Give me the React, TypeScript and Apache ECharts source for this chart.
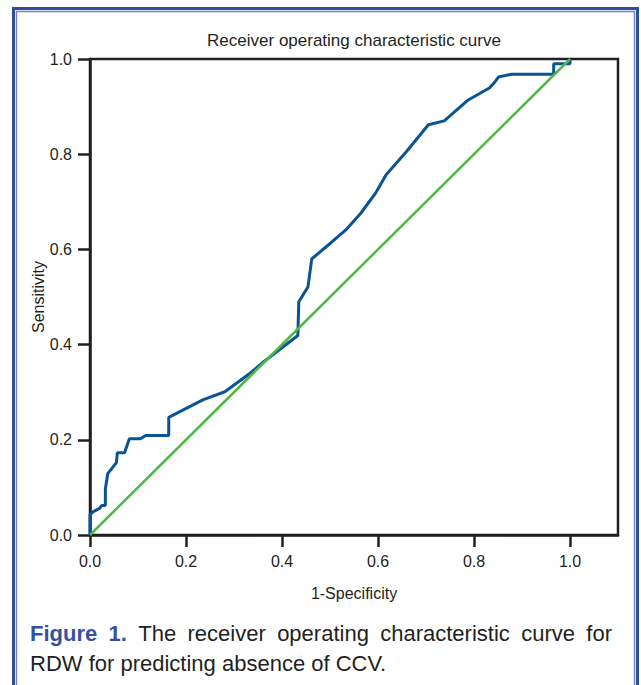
import React, { useEffect, useRef } from "react";
import * as echarts from "echarts";

// ROC curve points: [1-Specificity, Sensitivity]
const rocX = [0, 0, 0.007, 0.02, 0.024, 0.032, 0.032, 0.037, 0.055, 0.057, 0.072, 0.082, 0.105, 0.116, 0.164, 0.164, 0.235, 0.281, 0.335, 0.362, 0.433, 0.435, 0.454, 0.462, 0.502, 0.533, 0.565, 0.596, 0.617, 0.659, 0.705, 0.738, 0.788, 0.832, 0.842, 0.851, 0.878, 0.966, 0.966, 1.0, 1.0];
const rocY = [0, 0.043, 0.049, 0.056, 0.062, 0.062, 0.096, 0.129, 0.152, 0.173, 0.173, 0.202, 0.202, 0.209, 0.209, 0.247, 0.284, 0.301, 0.341, 0.364, 0.419, 0.49, 0.521, 0.58, 0.614, 0.641, 0.677, 0.72, 0.757, 0.805, 0.862, 0.87, 0.914, 0.939, 0.95, 0.962, 0.968, 0.968, 0.99, 0.99, 1.0];
const refX = [0, 1];
const refY = [0, 1];
const xTicks = [0, 0.2, 0.4, 0.6, 0.8, 1.0];
const yTicks = [0, 0.2, 0.4, 0.6, 0.8, 1.0];

const TITLE = "Receiver operating characteristic curve";
const X_NAME = "1-Specificity";
const Y_NAME = "Sensitivity";
const CAPTION_BOLD = ["Figure", "1."];
const CAPTION_LINE1 = ["The", "receiver", "operating", "characteristic", "curve", "for"];
const CAPTION_LINE2 = "RDW for predicting absence of CCV.";

const FONT = "'Liberation Sans', Arial, Helvetica, sans-serif";
const TEXT = "#231f20";
const BLUE_CAP = "#3450a2";

function measure(text: string, size: number, weight: string) {
  const c = document.createElement("canvas").getContext("2d");
  if (!c) return text.length * size * 0.5;
  c.font = `${weight} ${size}px 'Liberation Sans', Arial, sans-serif`;
  return c.measureText(text).width;
}

export default function App() {
  const ref = useRef<HTMLDivElement>(null);
  useEffect(() => {
    if (!ref.current) return;
    const chart = echarts.init(ref.current, null, { renderer: "svg" });

    // justified first caption line
    const capSize = 22;
    const words = [
      ...CAPTION_BOLD.map((w) => ({ w, bold: true })),
      ...CAPTION_LINE1.map((w) => ({ w, bold: false })),
    ];
    const x0 = 30;
    const x1 = 612;
    const widths = words.map((o) => measure(o.w, capSize, o.bold ? "bold" : "normal"));
    const total = widths.reduce((a, b) => a + b, 0);
    const gap = (x1 - x0 - total) / (words.length - 1);
    let cx = x0;
    const capEls: any[] = words.map((o, i) => {
      const el = {
        type: "text",
        x: cx,
        y: 633,
        style: {
          text: o.w,
          fill: o.bold ? BLUE_CAP : TEXT,
          fontSize: capSize,
          fontWeight: o.bold ? "bold" : "normal",
          fontFamily: FONT,
          textAlign: "left",
          textVerticalAlign: "middle",
        },
      };
      cx += widths[i] + gap;
      return el;
    });
    capEls.push({
      type: "text",
      x: x0,
      y: 663,
      style: {
        text: CAPTION_LINE2,
        fill: TEXT,
        fontSize: capSize,
        fontFamily: FONT,
        textAlign: "left",
        textVerticalAlign: "middle",
      },
    });

    chart.setOption({
      animation: false,
      backgroundColor: "#ffffff",
      grid: {
        left: 90,
        right: 23,
        top: 59,
        bottom: 150,
        show: true,
        borderColor: "#231f20",
        borderWidth: 2.5,
        backgroundColor: "transparent",
      },
      xAxis: {
        type: "value",
        min: 0,
        max: 1.1,
        interval: 0.2,
        name: X_NAME,
        nameLocation: "middle",
        nameGap: 50,
        nameMoveOverlap: false,
        nameTextStyle: { fontSize: 16, color: TEXT, fontFamily: FONT },
        axisLine: { show: true, lineStyle: { color: "#231f20", width: 2.5 } },
        axisTick: { show: true, length: 12, lineStyle: { color: "#231f20", width: 2.5 }, customValues: xTicks },
        axisLabel: {
          fontSize: 16,
          color: TEXT,
          fontFamily: FONT,
          margin: 18,
          customValues: xTicks,
          formatter: (v: number) => v.toFixed(1),
        },
        splitLine: { show: false },
      },
      yAxis: {
        type: "value",
        min: 0,
        max: 1,
        interval: 0.2,
        name: Y_NAME,
        nameLocation: "middle",
        nameRotate: 90,
        nameGap: 44,
        nameMoveOverlap: false,
        nameTextStyle: { fontSize: 16, color: TEXT, fontFamily: FONT },
        axisLine: { show: true, lineStyle: { color: "#231f20", width: 2.5 } },
        axisTick: { show: true, length: 12, lineStyle: { color: "#231f20", width: 2.5 }, customValues: yTicks },
        axisLabel: {
          fontSize: 16,
          color: TEXT,
          fontFamily: FONT,
          margin: 18,
          customValues: yTicks,
          formatter: (v: number) => v.toFixed(1),
        },
        splitLine: { show: false },
      },
      series: [
        {
          type: "line",
          data: rocX.map((x, i) => [x, rocY[i]]),
          showSymbol: false,
          symbol: "none",
          lineStyle: { color: "#0b5494", width: 3 },
          z: 3,
        },
        {
          type: "line",
          data: refX.map((x, i) => [x, refY[i]]),
          showSymbol: false,
          symbol: "none",
          lineStyle: { color: "#4db848", width: 2.5 },
          z: 4,
        },
      ],
      graphic: [
        {
          type: "rect",
          shape: { x: 13.5, y: 8.5, width: 624, height: 720 },
          style: { fill: "none", stroke: "#2e4d9b", lineWidth: 3 },
          silent: true,
        },
        {
          type: "rect",
          shape: { x: 16.5, y: 11.5, width: 618, height: 720 },
          style: { fill: "none", stroke: "#7384c4", lineWidth: 1.5 },
          silent: true,
        },
        {
          type: "text",
          x: 354,
          y: 40,
          style: {
            text: TITLE,
            fill: TEXT,
            fontSize: 17,
            fontFamily: FONT,
            textAlign: "center",
            textVerticalAlign: "middle",
          },
        },
        ...capEls,
      ],
    });
    return () => chart.dispose();
  }, []);
  return (
    <div
      ref={ref}
      style={{ position: "absolute", left: 0, top: 0, width: 641, height: 685, background: "#fff" }}
    />
  );
}
